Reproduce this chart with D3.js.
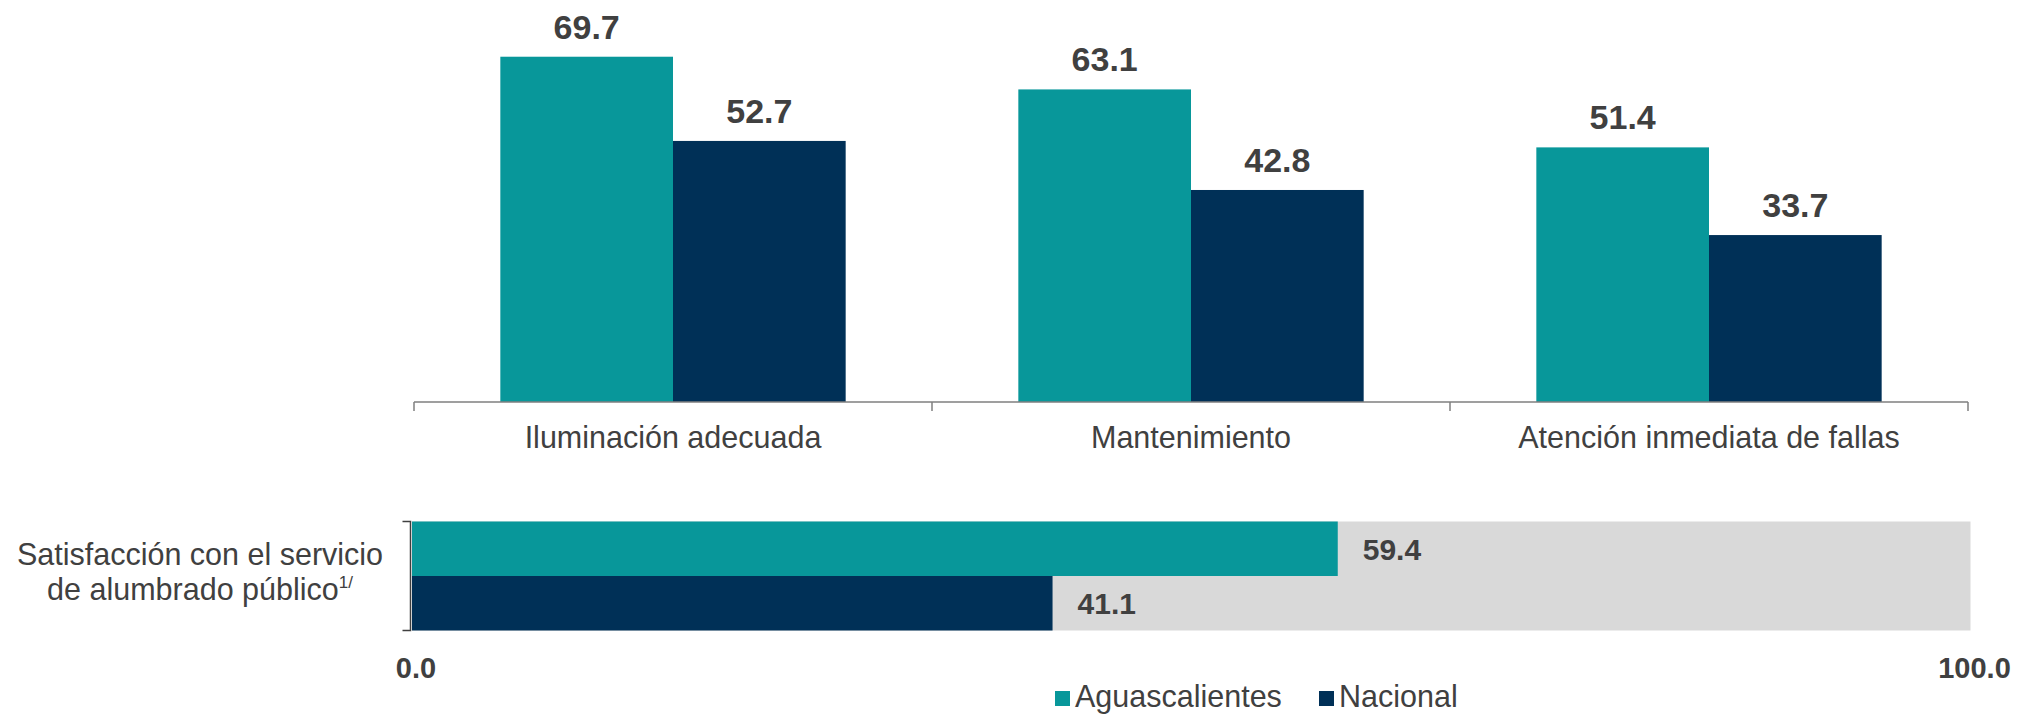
<!DOCTYPE html>
<html>
<head>
<meta charset="utf-8">
<script src="https://cdn.jsdelivr.net/npm/d3@7"></script>
<style>
  html, body { margin: 0; padding: 0; background: #fff; }
  svg { display: block; font-family: "Liberation Sans", Arial, sans-serif; }
</style>
</head>
<body>
<svg id="chart" width="2022" height="714"></svg>
<script>
// ---- data ----
const categories = ["Iluminación adecuada", "Mantenimiento", "Atención inmediata de fallas"];
const series = ["Aguascalientes", "Nacional"];
const aguascalientesValues = [69.7, 63.1, 51.4];
const nacionalValues = [52.7, 42.8, 33.7];
const satisfactionLabel = ["Satisfacción con el servicio", "de alumbrado público"];
const satisfactionValues = [59.4, 41.1];
const satisfactionTicks = [0, 100];

const colors = { "Aguascalientes": "#08979a", "Nacional": "#003057" };
const textColor = "#404040";

const svg = d3.select("#chart");

// ---- top grouped bar chart ----
const x = d3.scaleBand().domain(categories).range([414, 1968]).padding(0);
const xSub = d3.scaleBand().domain(series).range([0, x.bandwidth()]).paddingInner(0).paddingOuter(0.5);
const y = d3.scaleLinear().domain([0, 80]).range([402, 5.7]);

const rows = categories.map((c, i) => ({
  category: c,
  values: [
    { s: "Aguascalientes", v: aguascalientesValues[i] },
    { s: "Nacional", v: nacionalValues[i] }
  ]
}));

const groups = svg.append("g").selectAll("g").data(rows).join("g")
  .attr("transform", d => `translate(${x(d.category)},0)`);

groups.selectAll("rect").data(d => d.values).join("rect")
  .attr("x", d => xSub(d.s))
  .attr("width", xSub.bandwidth())
  .attr("y", d => y(d.v))
  .attr("height", d => y(0) - y(d.v))
  .attr("fill", d => colors[d.s]);

groups.selectAll("text.val").data(d => d.values).join("text")
  .attr("class", "val")
  .attr("x", d => xSub(d.s) + xSub.bandwidth() / 2)
  .attr("y", d => y(d.v) - 18)
  .attr("text-anchor", "middle")
  .attr("font-size", 34)
  .attr("font-weight", "bold")
  .attr("fill", textColor)
  .text(d => d.v.toFixed(1));

// axis line + separators
const axisG = svg.append("g");
axisG.append("line")
  .attr("x1", x.range()[0]).attr("x2", x.range()[1])
  .attr("y1", y(0)).attr("y2", y(0))
  .attr("stroke", "#7f7f7f").attr("stroke-width", 1.5);
const sepPositions = categories.map(c => x(c)).concat([x.range()[1]]);
axisG.selectAll("line.sep").data(sepPositions).join("line")
  .attr("class", "sep")
  .attr("x1", d => d).attr("x2", d => d)
  .attr("y1", y(0)).attr("y2", y(0) + 9)
  .attr("stroke", "#7f7f7f").attr("stroke-width", 1.5);
axisG.selectAll("text").data(categories).join("text")
  .attr("x", d => x(d) + x.bandwidth() / 2)
  .attr("y", 448)
  .attr("text-anchor", "middle")
  .attr("font-size", 30.5)
  .attr("fill", textColor)
  .text(d => d);

// ---- bottom horizontal bars ----
const xh = d3.scaleLinear().domain([0, 100]).range([412, 1970.5]);
const yh = d3.scaleBand().domain(series).range([521.5, 630.5]).padding(0);

svg.append("rect")
  .attr("x", xh(0)).attr("width", xh(100) - xh(0))
  .attr("y", yh.range()[0]).attr("height", yh.range()[1] - yh.range()[0])
  .attr("fill", "#d9d9d9");

const hdata = series.map((s, i) => ({ s, v: satisfactionValues[i] }));
svg.append("g").selectAll("rect").data(hdata).join("rect")
  .attr("x", xh(0))
  .attr("width", d => xh(d.v) - xh(0))
  .attr("y", d => yh(d.s))
  .attr("height", yh.bandwidth())
  .attr("fill", d => colors[d.s]);

svg.append("g").selectAll("text").data(hdata).join("text")
  .attr("x", d => xh(d.v) + 25)
  .attr("y", d => yh(d.s) + yh.bandwidth() / 2 + 11)
  .attr("font-size", 30)
  .attr("font-weight", "bold")
  .attr("fill", textColor)
  .text(d => d.v.toFixed(1));

// bracket axis
const bx = xh(0) - 1.5;
svg.append("path")
  .attr("d", `M${bx - 8},${yh.range()[0]} H${bx} V${yh.range()[1]} H${bx - 8}`)
  .attr("fill", "none").attr("stroke", "#404040").attr("stroke-width", 1.5);

// left label
const lbl = svg.append("text")
  .attr("x", 200).attr("text-anchor", "middle")
  .attr("font-size", 30.5).attr("fill", textColor);
lbl.append("tspan").attr("x", 200).attr("y", 565).text(satisfactionLabel[0]);
const l2 = lbl.append("tspan").attr("x", 200).attr("y", 600).text(satisfactionLabel[1]);
lbl.append("tspan").attr("dy", -12).attr("font-size", 17).text("1/");

// x tick labels
svg.append("g").selectAll("text").data(satisfactionTicks).join("text")
  .attr("x", d => xh(d) + 4)
  .attr("y", 678)
  .attr("text-anchor", "middle")
  .attr("font-size", 29)
  .attr("font-weight", "bold")
  .attr("fill", textColor)
  .text(d => d.toFixed(1));

// legend
const legendX = [1055, 1319];
const leg = svg.append("g").selectAll("g").data(series).join("g")
  .attr("transform", (d, i) => `translate(${legendX[i]},0)`);
leg.append("rect")
  .attr("x", 0).attr("y", 691).attr("width", 15).attr("height", 15)
  .attr("fill", d => colors[d]);
leg.append("text")
  .attr("x", 20).attr("y", 706.5)
  .attr("font-size", 30.5).attr("fill", textColor)
  .text(d => d);
</script>
</body>
</html>
